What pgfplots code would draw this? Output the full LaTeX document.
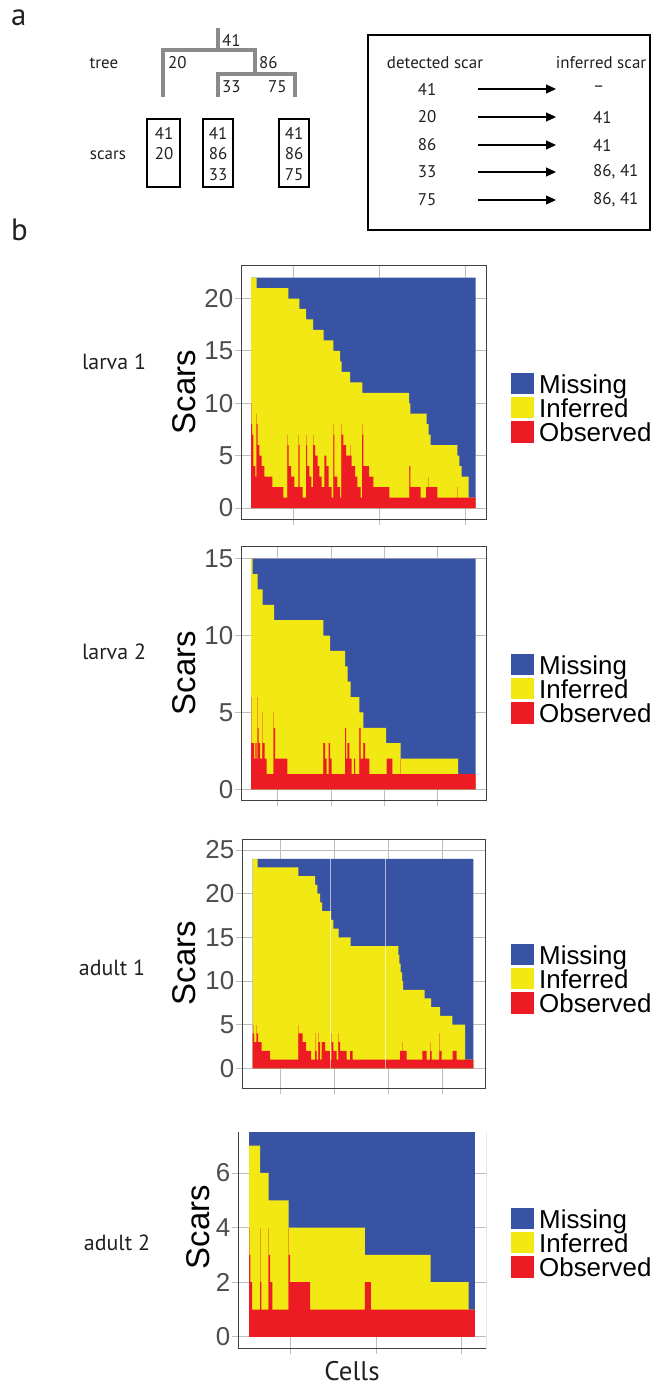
\documentclass[border=0pt]{standalone}
\usepackage{fontspec}
\setmainfont{Liberation Sans}
\newfontfamily\myr{PT Sans}
\usepackage{pgfplots}
\pgfplotsset{compat=1.18}
\usetikzlibrary{arrows.meta}

\definecolor{Blu}{HTML}{3953A4}
\definecolor{Yel}{HTML}{F2E914}
\definecolor{Red}{HTML}{ED1C24}
\definecolor{Org}{HTML}{F39A1E}
\definecolor{framec}{HTML}{404040}
\definecolor{gridc}{HTML}{BDBDBD}
\definecolor{tickc}{HTML}{4D4D4D}
\definecolor{txt}{HTML}{231F20}
\definecolor{treec}{HTML}{8A8A8A}

\pgfplotsset{panel/.style={
  scale only axis, anchor=south west,
  axis line style={draw=framec, line width=0.8bp},
  tick pos=left, tick align=outside,
  major tick length=6bp,
  tick style={draw=gridc, line width=0.8bp},
  grid=major, major grid style={draw=gridc, line width=0.8bp},
  xticklabels={},
  /pgf/number format/assume math mode=true,
  yticklabel style={font=\fontsize{26}{26}\selectfont, text=tickc, inner sep=1.5bp},
}}
\newcommand\lgfont{\fontsize{26}{26}\selectfont}
\newcommand\lgd[1]{%
 \begin{scope}[shift={(0bp,-#1bp)}]
  \fill[Blu] (511bp,14bp) rectangle (534bp,35bp);
  \fill[Yel] (511bp,-10bp) rectangle (534bp,11bp);
  \fill[Red] (511bp,-35bp) rectangle (534bp,-13bp);
  \node[anchor=base west, inner sep=0pt, font=\lgfont] at (539bp,14.7bp) {Missing};
  \node[anchor=base west, inner sep=0pt, font=\lgfont] at (539bp,-9.3bp) {Inferred};
  \node[anchor=base west, inner sep=0pt, font=\lgfont] at (539bp,-33.3bp) {Observed};
 \end{scope}}
\newcommand\scars[2]{\node[rotate=90, font=\fontsize{33}{33}\selectfont] at (#1bp,-#2bp) {Scars};}
\newcommand\pname[3]{\node[font=\myr\fontsize{22}{22}\selectfont, text=txt] at (#1bp,-#2bp) {#3};}

\begin{document}
\begin{tikzpicture}
\path[use as bounding box] (0,0) rectangle (658bp,-1386bp);

% ---- part a
\node[anchor=base west, inner sep=0pt, font=\myr\fontsize{31}{31}\selectfont, text=txt] at (11bp,-25bp) {a};
\node[anchor=base west, inner sep=0pt, font=\myr\fontsize{31}{31}\selectfont, text=txt] at (11bp,-240bp) {b};

\begin{scope}[font=\myr\fontsize{17}{17}\selectfont, text=txt]
\draw[treec, line width=4.5bp] (218bp,-28bp) -- (218bp,-50bp);
\draw[treec, line width=4.5bp] (163bp,-97bp) -- (163bp,-50bp) -- (255bp,-50bp) -- (255bp,-74bp);
\draw[treec, line width=4.5bp] (218bp,-97bp) -- (218bp,-74bp) -- (295bp,-74bp) -- (295bp,-97bp);
\node[anchor=west, inner sep=0pt] at (222bp,-40bp) {41};
\node[anchor=west, inner sep=0pt] at (168bp,-63bp) {20};
\node[anchor=west, inner sep=0pt] at (259bp,-63bp) {86};
\node[anchor=west, inner sep=0pt] at (222bp,-87bp) {33};
\node[anchor=west, inner sep=0pt] at (268bp,-87bp) {75};
\node at (104bp,-63bp) {tree};
\node at (108bp,-155bp) {scars};
\draw[black, line width=1.4bp] (147bp,-119bp) rectangle (180bp,-187bp);
\draw[black, line width=1.4bp] (203bp,-119bp) rectangle (233bp,-187bp);
\draw[black, line width=1.4bp] (279bp,-119bp) rectangle (309bp,-187bp);
\node at (164bp,-133bp) {41}; \node at (164bp,-154bp) {20};
\node at (218bp,-133bp) {41}; \node at (218bp,-154bp) {86}; \node at (218bp,-175bp) {33};
\node at (294bp,-133bp) {41}; \node at (294bp,-154bp) {86}; \node at (294bp,-175bp) {75};
\draw[black, line width=1.4bp] (368bp,-35bp) rectangle (650bp,-230bp);
\node at (435bp,-63bp) {detected scar};
\node at (601bp,-63bp) {inferred scar};
\foreach \yy/\aa/\bb in {89/41/–, 117/20/41, 145/86/41, 172/33/{86, 41}, 200/75/{86, 41}} {
  \node at (427bp,-\yy bp) {\aa};
  \draw[-{Triangle[length=10bp,width=9bp]}, line width=1.2bp] (478bp,-\yy bp) -- (556bp,-\yy bp);
  \node[anchor=west, inner sep=0pt] at (593bp,-\yy bp) {\bb};
}
\end{scope}

% ---- panel 1: larva 1
\begin{axis}[panel, at={(241bp,-519bp)}, width=245bp, height=254bp,
  xmin=33, xmax=768, ymin=-1.05, ymax=23.2,
  xtick={190,447,705}, ytick={0,5,10,15,20}]
\addplot[fill=Blu, draw=none] coordinates {(63,0)(63,22)(737,22)(737,0)} \closedcycle;
\addplot[const plot, fill=Yel, draw=none] coordinates {
 (63,22)(80,21)(175,20)(208,19)(228,18)(249,17)(281,16)(310,15)(330,14)(335,13)
 (360,12)(397,11)(537,10)(541,9)(590,8)(596,7)(602,6)(682,5)(688,4)(695,3)(716,1)(737,1)} \closedcycle;
\addplot[ycomb, draw=Org, line width=0.7bp] coordinates {
 (64,10)(80,9)(172,7)(206,7)(228,7)(249,7)(310,8)(335,8)(360,6)(396,8)(538,4)(595,3)(682,2)};
\addplot[const plot, fill=Red, draw=none] coordinates {
 (63,8)(66,7)(70,4)(76,3)(80,8)(83,6)(88,5)(95,4)(103,3)(127,2)(160,1)(172,6)(176,4)
 (183,3)(193,2)(206,6)(209,2)(218,1)(228,6)(231,4)(238,3)(244,2)(249,6)(255,5)(263,4)
 (268,3)(275,2)(283,5)(289,4)(296,2)(305,1)(310,7)(313,3)(322,2)(330,1)(334,7)(340,6)
 (348,5)(365,4)(375,3)(382,2)(392,1)(396,7)(400,4)(417,3)(430,2)(478,1)(538,4)(541,2)
 (572,1)(588,2)(622,1)(737,1)} \closedcycle;
\end{axis}
\pname{114}{362}{larva 1}
\scars{184}{392}
\lgd{408}

% ---- panel 2: larva 2
\begin{axis}[panel, at={(241bp,-800bp)}, width=245bp, height=254bp,
  xmin=33, xmax=768, ymin=-0.69, ymax=15.82,
  xtick={143,303,463,623}, ytick={0,5,10,15}]
\addplot[fill=Blu, draw=none] coordinates {(63,0)(63,15)(737,15)(737,0)} \closedcycle;
\addplot[const plot, fill=Yel, draw=none] coordinates {
 (63,15)(68,14)(83,13)(98,12)(132,11)(280,10)(300,9)(345,8)(353,7)(362,6)(388,5)
 (400,4)(468,3)(512,2)(684,1)(737,1)} \closedcycle;
\addplot[ycomb, draw=Org, line width=0.7bp] coordinates {
 (64,6)(83,6)(97,5)(131,5)(280,3)(345,4)(388,4)(400,3)(512,2)};
\addplot[const plot, fill=Red, draw=none] coordinates {
 (63,3)(72,2)(76,3)(80,2)(83,4)(86,3)(90,2)(97,3)(104,2)(110,1)(131,4)(135,2)(172,1)
 (280,3)(285,2)(290,1)(296,3)(300,2)(305,1)(345,4)(348,2)(352,3)(358,2)(365,1)(372,2)
 (375,1)(388,4)(392,2)(400,3)(405,2)(418,1)(470,2)(487,1)(737,1)} \closedcycle;
\end{axis}
\pname{114}{652}{larva 2}
\scars{184}{673}
\lgd{689}

% ---- panel 3: adult 1
\begin{axis}[panel, at={(242bp,-1088bp)}, width=243bp, height=249bp,
  xmin=36, xmax=765, ymin=-2.25, ymax=26.26,
  xtick={150,313,475,638}, ytick={0,5,10,15,20,25}]
\addplot[fill=Blu, draw=none] coordinates {(68,0)(68,24)(730,24)(730,0)} \closedcycle;
\addplot[const plot, fill=Yel, draw=none] coordinates {
 (68,24)(83,23)(205,22)(255,21)(262,20)(270,19)(276,18)(303,17)(310,16)(326,15)
 (362,14)(505,13)(508,12)(512,11)(516,10)(519,9)(584,8)(603,7)(630,6)(667,5)(705,1)(730,1)} \closedcycle;
\addplot[ycomb, draw=Org, line width=0.7bp] coordinates {
 (69,5)(80,5)(205,5)(255,4)(265,4)(305,4)(325,4)(517,3)(600,3)(628,4)};
\addplot[const plot, fill=Red, draw=none] coordinates {
 (68,4)(72,3)(80,4)(84,3)(95,2)(120,1)(205,4)(210,4)(218,3)(228,2)(243,1)(255,2)
 (260,1)(265,3)(270,1)(275,3)(285,2)(300,1)(305,3)(310,2)(320,1)(325,3)(330,2)(350,1)
 (360,2)(368,1)(510,2)(530,1)(577,2)(590,1)(600,2)(605,1)(628,2)(635,1)(668,2)(680,1)(730,1)} \closedcycle;
\draw[white, line width=0.8bp, opacity=0.6] (axis cs:300,0) -- (axis cs:300,24);
\draw[white, line width=0.8bp, opacity=0.6] (axis cs:466,0) -- (axis cs:466,24);
\end{axis}
\pname{112}{968}{adult 1}
\scars{184}{963}
\lgd{979}

% ---- panel 4: adult 2
\begin{axis}[panel, at={(238bp,-1348bp)}, width=248bp, height=216bp,
  axis line style={draw=none},
  xmin=25, xmax=768, ymin=-0.41, ymax=7.5,
  xtick={183,440,695}, ytick={0,2,4,6}]
\addplot[fill=Blu, draw=none] coordinates {(58,0)(58,7.5)(735,7.5)(735,0)} \closedcycle;
\addplot[const plot, fill=Yel, draw=none] coordinates {
 (58,7)(91,6)(117,5)(177,4)(405,3)(602,2)(716,1)(735,1)} \closedcycle;
\addplot[ycomb, draw=Org, line width=0.7bp] coordinates {(59,4)(91,4)(117,4)(177,4)};
\addplot[const plot, fill=Red, draw=none] coordinates {
 (58,3)(62,2)(67,1)(91,2)(95,1)(117,3)(121,2)(128,1)(177,3)(181,2)(241,1)(405,2)(423,1)(735,1)} \closedcycle;
\draw[framec, line width=0.8bp] (rel axis cs:0,1) -- (rel axis cs:0,0) -- (rel axis cs:1,0) -- (rel axis cs:1,1);
\end{axis}
\pname{117}{1243}{adult 2}
\scars{198}{1227}
\lgd{1243}
\node[anchor=base, inner sep=0pt, font=\myr\fontsize{27}{27}\selectfont, text=txt] at (352bp,-1380bp) {Cells};

\end{tikzpicture}
\end{document}
